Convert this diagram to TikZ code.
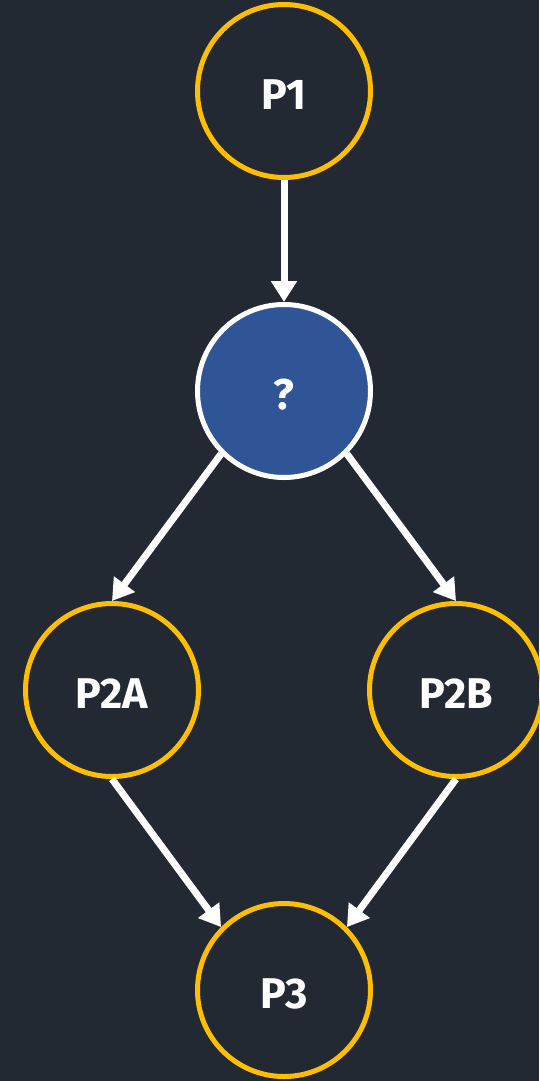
\documentclass[tikz,border=0pt]{standalone}
\usepackage{fontspec}
\setmainfont{Fira Sans}
\usetikzlibrary{arrows.meta}
\definecolor{bgdark}{HTML}{222933}
\definecolor{ringgold}{HTML}{FFBF00}
\definecolor{qblue}{HTML}{2F5597}
\begin{document}
\begin{tikzpicture}[x=1pt,y=-1pt,
  phase/.style={circle, draw=ringgold, line width=5pt, minimum size=173pt,
    inner sep=0pt, text=white, text height=36pt, text depth=0pt,
    font=\fontsize{43}{43}\selectfont\bfseries},
  choice/.style={phase, draw=white, fill=qblue},
  flow/.style={draw=white, line width=7pt, -{Triangle[width=25pt,length=21pt]}}]
  \fill[bgdark] (0,0) rectangle (539,1081);
  \useasboundingbox (0,0) rectangle (539,1081);
  \node[phase]  (p1)  at (284,91)  {P1};
  \node[choice] (q)   at (284,391) {?};
  \node[phase]  (p2a) at (112,690) {P2A};
  \node[phase]  (p2b) at (456,690) {P2B};
  \node[phase]  (p3)  at (284,990) {P3};
  \draw[flow] (p1.south) -- (q.north);
  \draw[flow] (q.south west) -- (p2a.north);
  \draw[flow] (q.south east) -- (p2b.north);
  \draw[flow] (p2a.south) -- (p3.north west);
  \draw[flow] (p2b.south) -- (p3.north east);
\end{tikzpicture}
\end{document}
